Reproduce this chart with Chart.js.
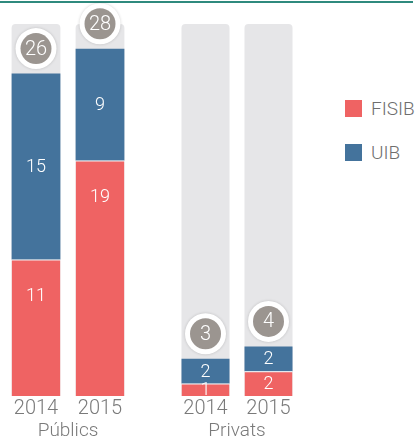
<!DOCTYPE html>
<html lang="ca">
<head>
<meta charset="utf-8">
<title>FISIB / UIB</title>
<style>
  body { margin: 0; background: #fff; }
  #page { position: relative; width: 418px; height: 441px; overflow: hidden; font-family: Roboto, "Liberation Sans", sans-serif; }
  #topLine { position: absolute; left: 0; top: 1px; width: 413px; height: 2px; background: #2f8a7e; }
  .box { position: absolute; top: 0; height: 441px; }
  #legend { position: absolute; left: 345px; top: 100px; }
  .item { position: relative; height: 44px; }
  .sw { position: absolute; left: 0; top: 0; width: 17px; height: 17px; }
  .lt { position: absolute; left: 26px; top: -2px; font-size: 19px; font-weight: 300; color: #6e6e6e; line-height: 21px; }
</style>
</head>
<body>
<div id="page">
  <div id="topLine"></div>
  <div class="box" style="left:0;width:136px"><canvas id="chartPublic"></canvas></div>
  <div class="box" style="left:170px;width:134px"><canvas id="chartPrivate"></canvas></div>
  <div id="legend"></div>
</div>
<script src="https://cdn.jsdelivr.net/npm/chart.js/dist/chart.umd.min.js"></script>
<script>
const years = ['2014', '2015'];
const groups = ['Públics', 'Privats'];
const seriesNames = ['FISIB', 'UIB'];
const fisibPublic = [11, 19];
const uibPublic = [15, 9];
const fisibPrivate = [1, 2];
const uibPrivate = [2, 2];
const scaleMax = 30;

const red = '#ef6363';
const blue = '#44739c';
const track = '#e6e6e8';
const badgeGray = '#9b9590';
const textGray = '#7a7a7a';
const fontFamily = 'Roboto, "Liberation Sans", sans-serif';

// white numbers on the segments + total badge over each stack
const stackLabels = {
  id: 'stackLabels',
  afterDatasetsDraw(chart) {
    const ctx = chart.ctx;
    const sets = chart.data.datasets;
    ctx.save();
    ctx.textAlign = 'center';
    ctx.textBaseline = 'middle';
    ctx.fillStyle = '#fff';
    ctx.font = '300 18px ' + fontFamily;
    [0, 1].forEach(di => {
      chart.getDatasetMeta(di).data.forEach((bar, i) => {
        const top = Math.min(bar.y, bar.base);
        const h = Math.abs(bar.base - bar.y);
        const y = di === 0 ? top + Math.min(h / 2, 36) : top + h / 2;
        ctx.fillText(sets[di].data[i], bar.x, y + 1);
      });
    });
    chart.getDatasetMeta(1).data.forEach((bar, i) => {
      const total = sets[0].data[i] + sets[1].data[i];
      const cy = bar.y - 25;
      ctx.save();
      ctx.shadowColor = 'rgba(0,0,0,0.18)';
      ctx.shadowBlur = 3;
      ctx.fillStyle = '#fff';
      ctx.beginPath();
      ctx.arc(bar.x, cy, 20.5, 0, Math.PI * 2);
      ctx.fill();
      ctx.restore();
      ctx.fillStyle = badgeGray;
      ctx.beginPath();
      ctx.arc(bar.x, cy, 15.5, 0, Math.PI * 2);
      ctx.fill();
      ctx.fillStyle = '#fff';
      ctx.font = '300 20px ' + fontFamily;
      ctx.fillText(total, bar.x, cy + 1);
    });
    ctx.restore();
  }
};

function makeChart(id, group, fisib, uib) {
  return new Chart(document.getElementById(id), {
    type: 'bar',
    data: {
      labels: years,
      datasets: [
        { label: seriesNames[0], data: fisib, backgroundColor: red, borderColor: '#fff',
          borderWidth: { top: 1, left: 0, right: 0, bottom: 0 }, stack: 'main', order: 1 },
        { label: seriesNames[1], data: uib, backgroundColor: blue, stack: 'main', order: 1 },
        { label: 'track', data: years.map(() => scaleMax), backgroundColor: track,
          borderRadius: 4, stack: 'track', grouped: false, order: 2 }
      ]
    },
    options: {
      responsive: true,
      maintainAspectRatio: false,
      animation: false,
      categoryPercentage: 1,
      barPercentage: 0.762,
      layout: { padding: { top: 24, left: 4, right: 4, bottom: 0 } },
      plugins: { legend: { display: false }, tooltip: { enabled: false } },
      scales: {
        y: { display: false, stacked: true, min: 0, max: scaleMax },
        x: {
          grid: { display: false, drawTicks: false },
          border: { display: false },
          ticks: { padding: 3, color: textGray, font: { family: fontFamily, size: 20, weight: '300', lineHeight: 1 } },
          title: { display: true, text: group, color: textGray, padding: { top: 0, bottom: 0 },
                   font: { family: fontFamily, size: 19, weight: '300', lineHeight: 1 } }
        }
      }
    },
    plugins: [stackLabels]
  });
}

makeChart('chartPublic', groups[0], fisibPublic, uibPublic);
makeChart('chartPrivate', groups[1], fisibPrivate, uibPrivate);

// legend
const legend = document.getElementById('legend');
[red, blue].forEach((c, i) => {
  const item = document.createElement('div');
  item.className = 'item';
  item.innerHTML = '<span class="sw" style="background:' + c + '"></span><span class="lt">' + seriesNames[i] + '</span>';
  legend.appendChild(item);
});
</script>
</body>
</html>
